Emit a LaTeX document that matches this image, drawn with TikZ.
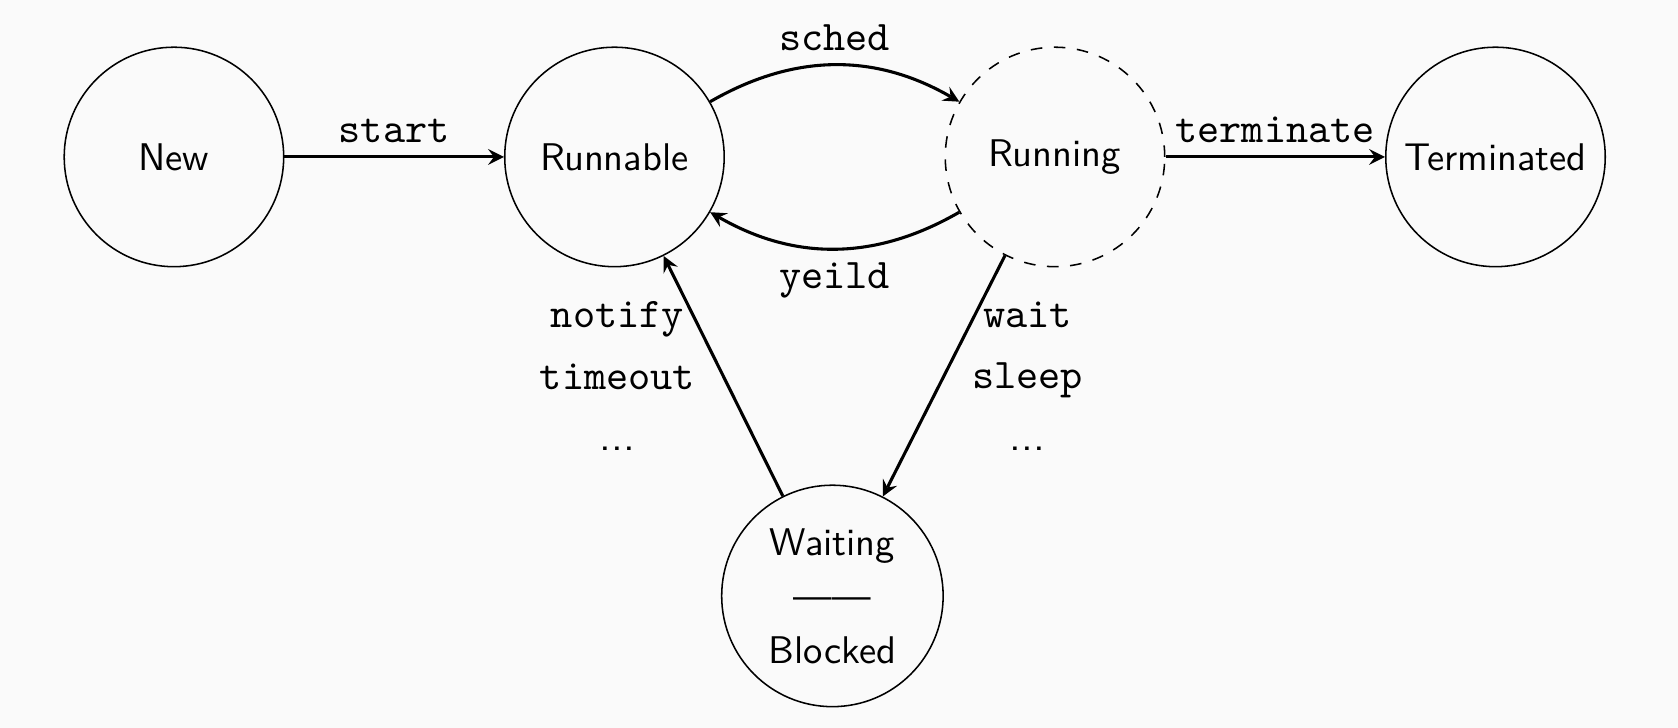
\documentclass[tikz,border=0pt]{standalone}
\usepackage{tikz}
\usetikzlibrary{positioning}
\definecolor{bgpaper}{RGB}{250,250,250}

\begin{document}
\begin{tikzpicture}[
    state/.style={circle, draw, minimum size=2cm, font=\sffamily},
    trans/.style={->, >=stealth, thick},
    lbl/.style={font=\fontsize{10.95pt}{13.6pt}\selectfont\ttfamily},
    sidelbl/.style={align=center, font=\fontsize{10.95pt}{13.6pt}\selectfont\sffamily},
  ]
    \fill[bgpaper] (-1.585,-5.2) rectangle (13.705,1.43);
    \useasboundingbox (-1.585,-5.2) rectangle (13.705,1.43);
    % states
    \node[state] (new) at (0,0) {New};
    \node[state, right=2cm of new] (runnable) {Runnable};
    \node[state, dashed, right=2cm of runnable] (running) {Running};
    \node[state, right=2cm of running] (terminated) {Terminated};
    \node[state, align=center] (waiting) at (6,-4) {Waiting\\[2pt]------\\[2pt]Blocked};

    % transitions
    \draw[trans] (new) -- node[lbl, above] {start} (runnable);
    \draw[trans] (runnable) to[bend left=30] node[lbl, above] {sched} (running);
    \draw[trans] (running) to[bend left=30] node[lbl, below] {yeild} (runnable);
    \draw[trans] (running) -- node[lbl, above] {terminate} (terminated);
    \draw[trans] (running) -- node[sidelbl, right=0.125cm]
        {\texttt{wait}\\[2.4pt]\texttt{sleep}\\[2.4pt]...} (waiting);
    \draw[trans] (waiting) -- node[sidelbl, left=0.125cm]
        {\texttt{notify}\\[2.4pt]\texttt{timeout}\\[2.4pt]...} (runnable);
\end{tikzpicture}
\end{document}
